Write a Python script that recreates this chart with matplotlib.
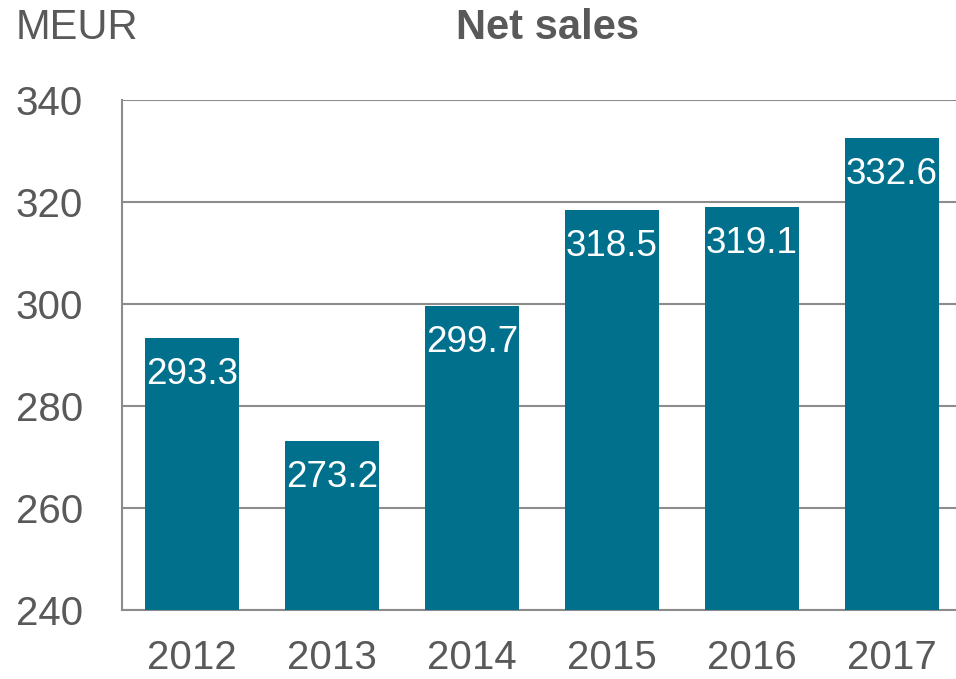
import matplotlib
matplotlib.use("Agg")
import matplotlib.pyplot as plt

years = ["2012", "2013", "2014", "2015", "2016", "2017"]
net_sales = [293.3, 273.2, 299.7, 318.5, 319.1, 332.6]
yticks = [240, 260, 280, 300, 320, 340]

plt.rcParams['font.family'] = ['Liberation Sans', 'DejaVu Sans']
TXT = "#595959"
BAR = "#00708C"
GRID = "#8C8C8C"

W, H = 956, 679
fig = plt.figure(figsize=(W / 100, H / 100), dpi=100)
ax = fig.add_axes([122 / W, (H - 610) / H, (W - 122) / W, 510 / H])

x = list(range(len(years)))
ax.bar(x, [v - 240 for v in net_sales], bottom=240, width=0.67, color=BAR, zorder=3)
for xi, v in zip(x, net_sales):
    ax.annotate(f"{v:.1f}", (xi, v), xytext=(0, -19), textcoords="offset pixels",
                ha="center", va="top", color="white", fontsize=26.5, zorder=4)

ax.set_xlim(-0.5, 5.457)
ax.set_ylim(240, 340)
ax.set_yticks(yticks)
ax.set_xticks(x)
ax.set_xticklabels(years)
ax.tick_params(axis="both", length=0, labelsize=29, labelcolor=TXT)
ax.tick_params(axis="y", pad=28)
ax.tick_params(axis="x", pad=21)
ax.grid(axis="y", color=GRID, linewidth=1.5, zorder=0)
ax.set_axisbelow(True)
for s in ["top", "right"]:
    ax.spines[s].set_visible(False)
for s in ["left", "bottom"]:
    ax.spines[s].set_color(GRID)
    ax.spines[s].set_linewidth(1.5)

fig.text(16 / W, 1 - 28 / H, "MEUR", ha="left", va="center", fontsize=30, color=TXT)
fig.text(548 / W, 1 - 28 / H, "Net sales", ha="center", va="center", fontsize=30,
         fontweight="bold", color=TXT)

fig.savefig("out.png", dpi=100)
